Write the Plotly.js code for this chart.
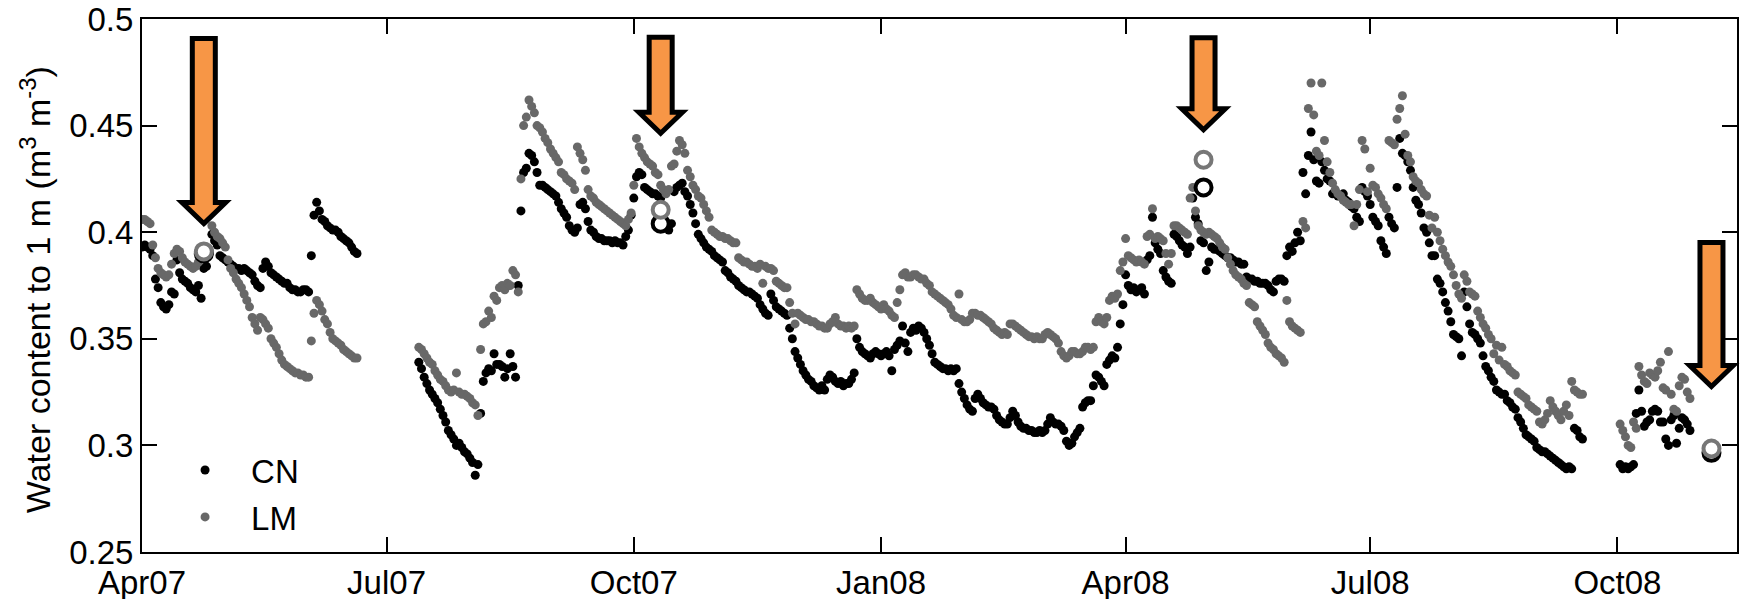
<!DOCTYPE html>
<html><head><meta charset="utf-8">
<script src="https://cdn.plot.ly/plotly-3.0.1.min.js"></script>
<style>html,body{margin:0;padding:0;background:#fff}#chart{width:1742px;height:599px}</style>
</head><body><div id="chart"></div>
<script>
// ---- data (daily values) ----
const cnStarts = ['2007-04-01', '2007-07-13', '2008-10-02'];
const cnValues = [
[0.393,0.394,0.393,0.392,0.389,0.378,0.374,0.367,0.365,0.364,
 0.366,0.372,0.371,0.387,0.381,0.378,0.377,0.376,0.374,0.373,
 0.372,0.375,0.369,0.383,0.384,0.390,0.399,0.396,0.394,0.389,
 0.388,0.387,0.386,0.385,0.384,0.383,0.383,0.382,0.383,0.382,
 0.381,0.380,0.377,0.375,0.374,0.383,0.386,0.384,0.381,0.380,
 0.379,0.378,0.377,0.376,0.376,0.374,0.373,0.373,0.372,0.372,
 0.373,0.373,0.372,0.389,0.408,0.414,0.410,0.406,0.405,0.403,
 0.402,0.401,0.401,0.400,0.398,0.397,0.396,0.395,0.393,0.391,
 0.390],
[0.339,0.336,0.332,0.329,0.326,0.324,0.322,
 0.320,0.317,0.314,0.311,0.307,0.305,0.303,0.300,0.301,0.299,
 0.297,0.296,0.294,0.292,0.286,0.291,0.315,0.330,0.334,0.336,
 0.335,0.343,0.338,0.338,0.337,0.332,0.336,0.343,0.337,0.332,
 0.375,0.410,0.428,0.430,0.437,0.436,0.433,0.428,0.422,0.422,
 0.421,0.420,0.419,0.418,0.417,0.414,0.411,0.409,0.407,0.403,
 0.401,0.400,0.402,0.413,0.414,0.411,0.405,0.401,0.400,0.398,
 0.397,0.397,0.396,0.396,0.396,0.395,0.396,0.395,0.395,0.394,
 0.398,0.401,0.408,0.416,0.426,0.428,0.427,0.421,0.420,0.419,
 0.418,0.418,0.417,0.416,0.410,0.404,0.401,0.404,0.419,0.421,
 0.422,0.423,0.419,0.417,0.413,0.409,0.404,0.399,0.397,0.395,
 0.393,0.392,0.391,0.389,0.388,0.387,0.386,0.382,0.381,0.379,
 0.378,0.377,0.375,0.374,0.373,0.372,0.372,0.371,0.370,0.369,
 0.366,0.364,0.362,0.361,0.371,0.368,0.365,0.364,0.363,0.362,
 0.361,0.355,0.350,0.344,0.341,0.338,0.335,0.333,0.331,0.330,
 0.328,0.327,0.326,0.328,0.326,0.331,0.333,0.332,0.330,0.329,
 0.330,0.328,0.329,0.329,0.331,0.334,0.350,0.346,0.344,0.343,
 0.342,0.341,0.343,0.344,0.343,0.342,0.343,0.344,0.342,0.335,
 0.345,0.347,0.349,0.356,0.348,0.344,0.353,0.355,0.354,0.356,
 0.355,0.353,0.350,0.347,0.343,0.339,0.338,0.337,0.336,0.336,
 0.335,0.336,0.335,0.336,0.329,0.325,0.322,0.319,0.317,0.316,
 0.322,0.324,0.322,0.320,0.319,0.318,0.318,0.317,0.314,0.312,
 0.311,0.310,0.310,0.313,0.316,0.314,0.311,0.309,0.308,0.308,
 0.307,0.307,0.306,0.306,0.307,0.306,0.307,0.310,0.313,0.311,
 0.310,0.310,0.309,0.307,0.302,0.300,0.301,0.304,0.306,0.308,
 0.318,0.320,0.321,0.321,0.328,0.333,0.332,0.330,0.328,0.338,
 0.340,0.342,0.341,0.346,0.357,0.366,0.380,0.375,0.373,0.374,
 0.372,0.373,0.374,0.371,0.387,0.389,0.407,0.395,0.392,0.390,
 0.382,0.379,0.377,0.376,0.399,0.398,0.396,0.394,0.393,0.390,
 0.393,0.416,0.407,0.404,0.396,0.395,0.382,0.386,0.393,0.392,
 0.392,0.391,0.390,0.389,0.388,0.388,0.387,0.386,0.386,0.385,
 0.385,0.379,0.378,0.378,0.377,0.377,0.376,0.376,0.376,0.375,
 0.373,0.372,0.377,0.378,0.378,0.377,0.389,0.393,0.391,0.395,
 0.400,0.396,0.428,0.418,0.436,0.447,0.434,0.424,0.423,0.433,
 0.429,0.425,0.424,0.418,0.418,0.417,0.417,0.418,0.415,0.414,
 0.412,0.411,0.407,0.405,0.421,0.419,0.417,0.413,0.407,0.405,
 0.403,0.396,0.393,0.390,0.407,0.404,0.402,0.421,0.444,0.437,
 0.436,0.433,0.429,0.421,0.415,0.413,0.409,0.402,0.400,0.395,
 0.389,0.389,0.378,0.376,0.372,0.367,0.363,0.358,0.352,0.351,
 0.350,0.342,0.372,0.365,0.357,0.353,0.352,0.350,0.348,0.342,
 0.337,0.335,0.332,0.330,0.326,0.325,0.324,0.324,0.321,0.320,
 0.318,0.317,0.313,0.311,0.308,0.305,0.304,0.303,0.302,0.299,
 0.298,0.297,0.297,0.296,0.295,0.294,0.293,0.292,0.291,0.290,
 0.289,0.290,0.289,0.308,0.307,0.304,0.303],
[0.291,0.289,0.290,0.289,0.290,0.291,0.315,0.326,0.316,0.309,
 0.311,0.312,0.316,0.317,0.316,0.311,0.311,0.303,0.300,0.312,
 0.314,0.301,0.308,0.313,0.312,0.310,0.307]
];
const lmStarts = ['2007-04-01', '2007-07-13', '2008-10-02'];
const lmValues = [
[0.406,0.406,0.405,0.404,0.394,0.388,0.383,0.381,0.380,0.379,
 0.380,0.385,0.390,0.392,0.391,0.388,0.386,0.385,0.384,0.383,
 0.384,0.386,0.388,0.389,0.390,0.392,0.403,0.400,0.398,0.397,
 0.395,0.393,0.387,0.383,0.381,0.378,0.376,0.374,0.371,0.368,
 0.365,0.360,0.357,0.354,0.360,0.359,0.357,0.355,0.350,0.348,
 0.346,0.343,0.340,0.338,0.337,0.336,0.335,0.334,0.334,0.333,
 0.333,0.332,0.332,0.349,0.362,0.368,0.366,0.363,0.359,0.357,
 0.353,0.350,0.349,0.348,0.347,0.345,0.344,0.343,0.342,0.341,
 0.341],
[0.346,0.345,0.343,0.341,0.339,0.338,0.335,
 0.333,0.331,0.330,0.328,0.326,0.325,0.326,0.334,0.325,0.324,
 0.324,0.323,0.322,0.320,0.319,0.314,0.345,0.357,0.358,0.363,
 0.360,0.370,0.368,0.374,0.375,0.373,0.376,0.375,0.382,0.380,
 0.372,0.425,0.450,0.454,0.462,0.459,0.456,0.450,0.449,0.447,
 0.444,0.442,0.439,0.437,0.435,0.433,0.428,0.427,0.425,0.424,
 0.423,0.420,0.440,0.437,0.434,0.429,0.420,0.417,0.416,0.414,
 0.413,0.412,0.411,0.410,0.409,0.408,0.407,0.406,0.405,0.404,
 0.403,0.406,0.409,0.422,0.444,0.440,0.437,0.435,0.433,0.432,
 0.431,0.428,0.427,0.422,0.420,0.418,0.420,0.431,0.432,0.438,
 0.443,0.441,0.437,0.429,0.426,0.422,0.420,0.417,0.416,0.413,
 0.410,0.407,0.401,0.400,0.399,0.398,0.398,0.397,0.397,0.396,
 0.395,0.395,0.388,0.387,0.386,0.386,0.385,0.384,0.384,0.383,
 0.385,0.376,0.384,0.383,0.383,0.382,0.377,0.376,0.375,0.374,
 0.374,0.367,0.362,0.357,0.362,0.361,0.360,0.359,0.359,0.358,
 0.358,0.357,0.356,0.356,0.355,0.355,0.357,0.358,0.360,0.357,
 0.356,0.356,0.355,0.356,0.355,0.356,0.373,0.371,0.369,0.368,
 0.368,0.369,0.367,0.366,0.365,0.364,0.366,0.364,0.363,0.361,
 0.360,0.367,0.373,0.380,0.381,0.379,0.379,0.380,0.380,0.379,
 0.378,0.378,0.376,0.375,0.372,0.371,0.370,0.369,0.368,0.367,
 0.366,0.364,0.361,0.360,0.371,0.359,0.358,0.358,0.359,0.362,
 0.362,0.361,0.361,0.360,0.359,0.358,0.357,0.355,0.354,0.353,
 0.352,0.353,0.352,0.357,0.357,0.356,0.355,0.354,0.353,0.352,
 0.351,0.351,0.350,0.351,0.350,0.350,0.352,0.353,0.352,0.351,
 0.350,0.348,0.344,0.342,0.341,0.342,0.344,0.344,0.343,0.343,
 0.344,0.346,0.346,0.345,0.346,0.358,0.360,0.358,0.357,0.360,
 0.368,0.370,0.369,0.371,0.382,0.386,0.397,0.389,0.388,0.387,
 0.386,0.387,0.386,0.385,0.398,0.399,0.411,0.397,0.398,0.397,
 0.396,0.390,0.385,0.390,0.403,0.403,0.402,0.401,0.400,0.399,
 0.416,0.421,0.410,0.403,0.401,0.400,0.399,0.400,0.399,0.398,
 0.397,0.395,0.393,0.392,0.388,0.385,0.382,0.380,0.379,0.378,
 0.376,0.375,0.367,0.366,0.365,0.358,0.356,0.354,0.352,0.348,
 0.346,0.345,0.343,0.342,0.341,0.339,0.368,0.358,0.356,0.355,
 0.354,0.353,0.405,0.402,0.458,0.470,0.455,0.438,0.436,0.470,
 0.443,0.433,0.428,0.423,0.420,0.418,0.417,0.415,0.414,0.413,
 0.413,0.403,0.413,0.420,0.443,0.439,0.419,0.430,0.422,0.421,
 0.418,0.416,0.413,0.411,0.443,0.442,0.441,0.453,0.458,0.464,
 0.446,0.436,0.433,0.426,0.424,0.423,0.420,0.418,0.417,0.408,
 0.402,0.407,0.400,0.396,0.392,0.389,0.386,0.384,0.380,0.375,
 0.371,0.369,0.380,0.377,0.372,0.371,0.370,0.363,0.360,0.357,
 0.355,0.352,0.350,0.343,0.347,0.340,0.346,0.338,0.337,0.335,
 0.334,0.333,0.325,0.324,0.323,0.322,0.319,0.318,0.317,0.316,
 0.311,0.310,0.312,0.315,0.321,0.318,0.316,0.314,0.312,0.316,
 0.319,0.314,0.330,0.326,0.325,0.324,0.324],
[0.310,0.307,0.304,0.300,0.299,0.311,0.308,0.337,0.333,0.330,
 0.329,0.334,0.333,0.332,0.335,0.339,0.327,0.326,0.344,0.324,
 0.317,0.316,0.328,0.332,0.331,0.325,0.322]
];
// open-circle samples at the arrow dates
const markDates = ['2007-04-24', '2007-10-11', '2008-04-30', '2008-11-05'];
const markCN = [0.390, 0.404, 0.421, 0.2965];
const markLM = [0.391, 0.4105, 0.434, 0.2985];
const arrowTips = [0.4024, 0.4448, 0.4464, 0.326];
const arrowLengths = [191, 102, 98, 150];
// axes
const tickDates = ['2007-04-01','2007-07-01','2007-10-01','2008-01-01','2008-04-01','2008-07-01','2008-10-01'];
const tickLabels = ['Apr07','Jul07','Oct07','Jan08','Apr08','Jul08','Oct08'];
const xRange = ['2007-04-01', '2008-11-14 12:00'];
const yRange = [0.25, 0.5];
const yTitle = 'Water content to 1 m (m<sup>3</sup> m<sup>-3</sup>)';

// ---- build ----
function toMs(s) { return Date.parse(s.replace(' ', 'T') + (s.length > 10 ? ':00Z' : 'T00:00:00Z')); }
function isoDay(ms) { return new Date(ms).toISOString().slice(0, 10); }
function expand(starts, values) {
  const x = [], y = [];
  starts.forEach((s, k) => {
    const t0 = toMs(s);
    values[k].forEach((v, i) => { x.push(isoDay(t0 + i * 86400000)); y.push(v); });
  });
  return {x, y};
}
const cn = expand(cnStarts, cnValues);
const lm = expand(lmStarts, lmValues);
const FONT = 'Liberation Sans, Arial, sans-serif';

const traces = [
  {type: 'scatter', mode: 'markers', name: 'CN', x: cn.x, y: cn.y, legend: 'legend',
   marker: {color: '#000000', size: 9}},
  {type: 'scatter', mode: 'markers', name: 'LM', x: lm.x, y: lm.y, legend: 'legend2',
   marker: {color: '#686868', size: 9}},
  {type: 'scatter', mode: 'markers', x: markDates, y: markCN, showlegend: false,
   marker: {color: '#ffffff', size: 16, symbol: 'circle', line: {color: '#000000', width: 4}}},
  {type: 'scatter', mode: 'markers', x: markDates, y: markLM, showlegend: false,
   marker: {color: '#ffffff', size: 16, symbol: 'circle', line: {color: '#777777', width: 4}}}
];

const r0 = toMs(xRange[0]), r1 = toMs(xRange[1]);
const shapes = markDates.map((d, i) => {
  const L = arrowLengths[i] - 2.5;
  const path = 'M0,3.5 L21.8,24.5 L11.5,24.5 L11.5,' + L + ' L-11.5,' + L + ' L-11.5,24.5 L-21.8,24.5 Z';
  return {
    type: 'path', xref: 'paper', yref: 'y', xsizemode: 'pixel', ysizemode: 'pixel',
    xanchor: (toMs(d) - r0) / (r1 - r0), yanchor: arrowTips[i], path: path,
    fillcolor: '#F79646', line: {color: '#000000', width: 5}, layer: 'above'
  };
});

const axisCommon = {
  ticks: 'inside', ticklen: 15, tickwidth: 2, tickcolor: '#000',
  showline: true, linecolor: '#000', linewidth: 2, mirror: 'ticks',
  showgrid: false, zeroline: false,
  tickfont: {family: FONT, size: 33, color: '#000'}
};
const legendCommon = {x: 0.0107, xanchor: 'left', yanchor: 'middle', bgcolor: 'rgba(0,0,0,0)',
  font: {family: FONT, size: 33, color: '#000'}, itemwidth: 82};

const layout = {
  width: 1742, height: 599,
  margin: {l: 142, r: 5, t: 19, b: 47, autoexpand: false},
  paper_bgcolor: '#fff', plot_bgcolor: '#fff',
  showlegend: true,
  legend: Object.assign({}, legendCommon, {y: 0.1538}),
  legend2: Object.assign({}, legendCommon, {y: 0.0657}),
  xaxis: Object.assign({}, axisCommon, {
    type: 'date', range: xRange, tickmode: 'array', tickvals: tickDates, ticktext: tickLabels
  }),
  yaxis: Object.assign({}, axisCommon, {
    range: yRange, tickmode: 'linear', tick0: 0.25, dtick: 0.05
  }),
  annotations: [{
    text: yTitle, textangle: -90, xref: 'paper', yref: 'paper',
    x: -0.0671, y: 0.493, xanchor: 'center', yanchor: 'middle', showarrow: false,
    font: {family: FONT, size: 34, color: '#000'}
  }],
  shapes: shapes
};

Plotly.newPlot('chart', traces, layout, {displayModeBar: false, staticPlot: true});
</script>
</body></html>
